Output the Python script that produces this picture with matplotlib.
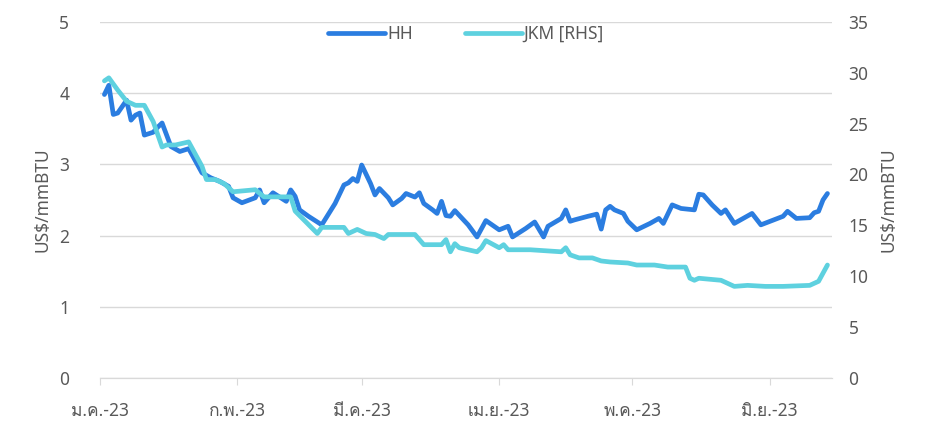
import pandas as pd
import matplotlib.pyplot as plt
from matplotlib import font_manager
from matplotlib.ft2font import FT2Font

# find an installed family that has Thai glyphs
thai_fams = []
for f in font_manager.fontManager.ttflist:
    try:
        if 0x0E01 in FT2Font(f.fname).get_charmap() and f.name not in thai_fams:
            thai_fams.append(f.name)
    except Exception:
        pass

plt.rcParams['font.family'] = ['Noto Sans'] + thai_fams + ['DejaVu Sans']

hh_dates = ['01-02', '01-03', '01-04', '01-05', '01-07', '01-08', '01-09', '01-10', '01-11', '01-13',
            '01-14', '01-15', '01-17', '01-19', '01-21', '01-24', '01-26', '01-28', '01-30', '01-31',
            '02-02', '02-05', '02-06', '02-07', '02-09', '02-12', '02-13', '02-14', '02-15', '02-17',
            '02-20', '02-23', '02-25', '02-26', '02-27', '02-28', '03-01', '03-03', '03-04', '03-05',
            '03-07', '03-08', '03-10', '03-11', '03-13', '03-14', '03-15', '03-17', '03-18', '03-19',
            '03-20', '03-21', '03-22', '03-25', '03-27', '03-29', '04-01', '04-03', '04-04', '04-07',
            '04-09', '04-11', '04-12', '04-15', '04-16', '04-17', '04-18', '04-21', '04-23', '04-24',
            '04-25', '04-26', '04-27', '04-29', '04-30', '05-02', '05-05', '05-07', '05-08', '05-10',
            '05-12', '05-15', '05-16', '05-17', '05-19', '05-21', '05-22', '05-24', '05-28', '05-30',
            '06-04', '06-05', '06-07', '06-10', '06-11', '06-12', '06-13', '06-14']
hh = [3.98, 4.11, 3.70, 3.72, 3.90, 3.62, 3.69, 3.72, 3.41, 3.45,
      3.52, 3.58, 3.25, 3.18, 3.22, 2.88, 2.81, 2.76, 2.69, 2.53,
      2.46, 2.53, 2.64, 2.46, 2.60, 2.48, 2.64, 2.55, 2.36, 2.27,
      2.15, 2.45, 2.71, 2.74, 2.80, 2.76, 2.99, 2.73, 2.57, 2.66,
      2.53, 2.43, 2.52, 2.59, 2.54, 2.60, 2.45, 2.36, 2.31, 2.48,
      2.28, 2.27, 2.35, 2.15, 1.98, 2.21, 2.08, 2.13, 1.98, 2.10,
      2.19, 1.98, 2.13, 2.24, 2.36, 2.20, 2.22, 2.27, 2.30, 2.09,
      2.36, 2.41, 2.36, 2.31, 2.20, 2.08, 2.17, 2.24, 2.17, 2.43,
      2.38, 2.36, 2.58, 2.57, 2.43, 2.31, 2.36, 2.17, 2.31, 2.15,
      2.27, 2.34, 2.24, 2.25, 2.32, 2.34, 2.50, 2.59]

jkm_dates = ['01-02', '01-03', '01-05', '01-07', '01-09', '01-11', '01-13', '01-15', '01-16', '01-18',
             '01-21', '01-24', '01-25', '01-27', '01-29', '01-31', '02-05', '02-07', '02-13', '02-14',
             '02-19', '02-20', '02-25', '02-26', '02-28', '03-02', '03-04', '03-06', '03-07', '03-13',
             '03-15', '03-19', '03-20', '03-21', '03-22', '03-23', '03-25', '03-27', '03-28', '03-29',
             '04-01', '04-02', '04-03', '04-08', '04-15', '04-16', '04-17', '04-19', '04-22', '04-24',
             '04-26', '04-30', '05-02', '05-06', '05-09', '05-13', '05-14', '05-15', '05-16', '05-21',
             '05-24', '05-27', '05-31', '06-04', '06-10', '06-12', '06-14']
jkm = [29.2, 29.5, 28.3, 27.2, 26.8, 26.8, 25.2, 22.7, 22.9, 22.9,
       23.2, 20.8, 19.5, 19.5, 19.1, 18.3, 18.5, 17.8, 17.8, 16.4,
       14.2, 14.8, 14.8, 14.2, 14.6, 14.2, 14.1, 13.7, 14.1, 14.1,
       13.1, 13.1, 13.6, 12.4, 13.2, 12.8, 12.6, 12.4, 12.8, 13.5,
       12.8, 13.1, 12.6, 12.6, 12.4, 12.8, 12.1, 11.8, 11.8, 11.5,
       11.4, 11.3, 11.1, 11.1, 10.9, 10.9, 9.8, 9.6, 9.8, 9.6,
       9.0, 9.1, 9.0, 9.0, 9.1, 9.5, 11.1]

month_labels = ['ม.ค.-23', 'ก.พ.-23', 'มี.ค.-23', 'เม.ย.-23', 'พ.ค.-23', 'มิ.ย.-23']

hh_x = pd.to_datetime(['2023-' + d for d in hh_dates])
jkm_x = pd.to_datetime(['2023-' + d for d in jkm_dates])
months = pd.date_range('2023-01-01', periods=6, freq='MS')

grey = '#595959'
fig = plt.figure(figsize=(9.3, 4.29), dpi=100)
ax = fig.add_axes([0.1075, 0.119, 0.787, 0.83])
ax2 = ax.twinx()

l1, = ax.plot(hh_x, hh, color='#2B7DE0', lw=3.4, solid_capstyle='round', solid_joinstyle='round')
l2, = ax2.plot(jkm_x, jkm, color='#5ED1DF', lw=3.4, solid_capstyle='round', solid_joinstyle='round')

ax.set_ylim(0, 5)
ax2.set_ylim(0, 35)
ax.set_xlim(pd.Timestamp('2023-01-01'), pd.Timestamp('2023-06-15'))
ax.set_yticks(range(0, 6))
ax2.set_yticks(range(0, 36, 5))
ax.set_xticks(months)
ax.set_xticklabels(month_labels)
ax.grid(axis='y', color='#d9d9d9', lw=1)
ax.set_axisbelow(True)

for a in (ax, ax2):
    for s in ['top', 'left', 'right']:
        a.spines[s].set_visible(False)
    a.spines['bottom'].set_color('#d9d9d9')
    a.tick_params(axis='y', length=0, labelsize=12.5, labelcolor=grey, pad=22)
ax.tick_params(axis='x', length=5, color='#d9d9d9', labelsize=12.5, labelcolor=grey, pad=12)
ax2.tick_params(axis='y', pad=12)

ax.set_ylabel('US$/mmBTU', fontsize=12.5, color=grey, labelpad=6)
ax2.set_ylabel('US$/mmBTU', fontsize=12.5, color=grey, labelpad=8)

ax2.legend([l1, l2], ['HH', 'JKM [RHS]'], loc='upper center', bbox_to_anchor=(0.5, 1.035), ncol=2,
           frameon=False, fontsize=12.5, labelcolor=grey, handlelength=3.3, handletextpad=0.1,
           columnspacing=3)

fig.savefig('out.png', dpi=100)
